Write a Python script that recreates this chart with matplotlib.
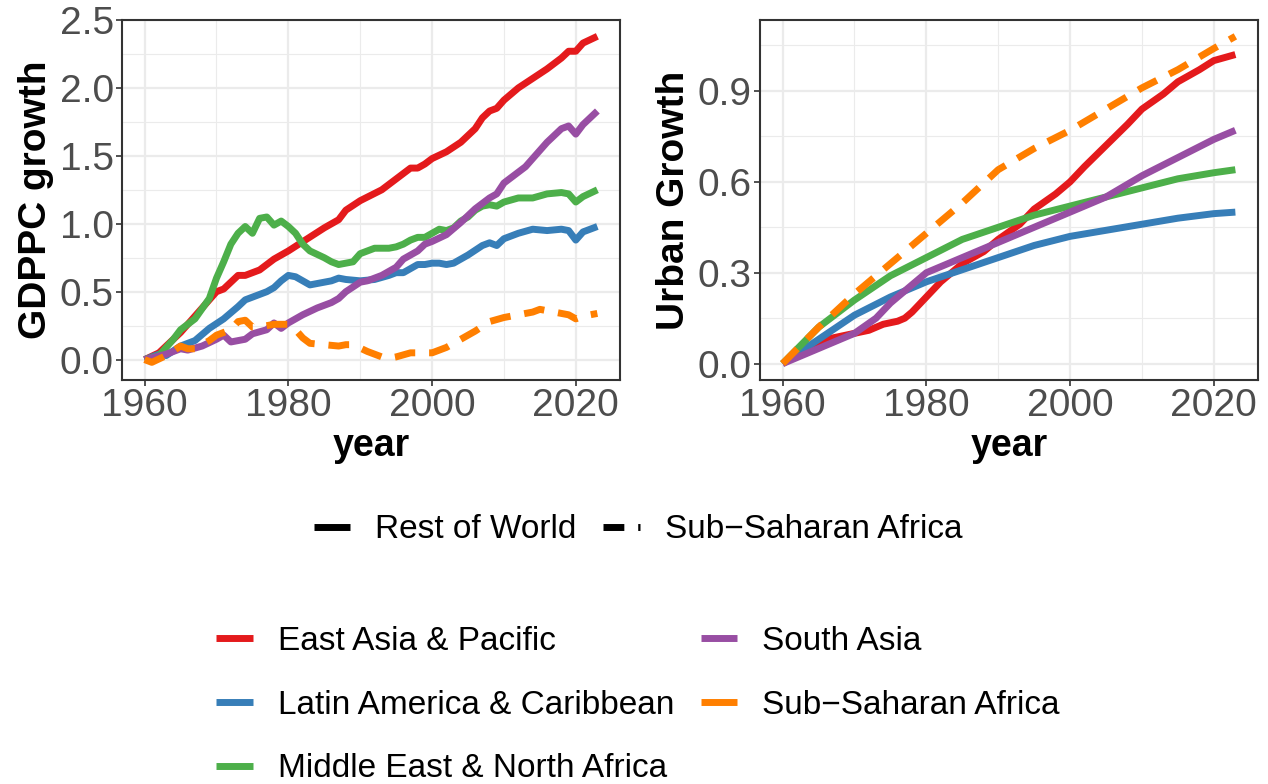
import matplotlib
matplotlib.use("Agg")
import matplotlib.pyplot as plt
from matplotlib.lines import Line2D
from matplotlib.ticker import MultipleLocator, FormatStrFormatter

plt.rcParams['font.family'] = ['Liberation Sans', 'DejaVu Sans']

regions = ["East Asia & Pacific", "Latin America & Caribbean",
           "Middle East & North Africa", "South Asia", "Sub\u2212Saharan Africa"]
colors = ["#E41A1C", "#377EB8", "#4DAF4A", "#984EA3", "#FF7F00"]

# GDP per capita growth (left panel)
gdp_eap_years = [1960, 1962, 1965, 1968, 1970, 1971, 1973, 1974, 1976, 1978, 1980, 1985, 1987,
                 1988, 1990, 1993, 1995, 1997, 1998, 1999, 2000, 2002, 2004, 2006, 2007, 2008,
                 2009, 2010, 2012, 2014, 2016, 2018, 2019, 2020, 2021, 2023]
gdp_eap = [0.0, 0.05, 0.20, 0.38, 0.50, 0.52, 0.62, 0.62, 0.66, 0.74, 0.80, 0.97, 1.03,
           1.10, 1.17, 1.25, 1.33, 1.41, 1.41, 1.44, 1.48, 1.53, 1.60, 1.70, 1.78, 1.83,
           1.85, 1.91, 2.00, 2.07, 2.14, 2.22, 2.27, 2.27, 2.33, 2.38]

gdp_lac_years = [1960, 1962, 1963, 1965, 1967, 1969, 1971, 1973, 1974, 1975, 1977, 1978, 1979,
                 1980, 1981, 1982, 1983, 1984, 1986, 1987, 1988, 1990, 1992, 1994, 1995, 1996,
                 1998, 1999, 2000, 2001, 2002, 2003, 2004, 2005, 2007, 2008, 2009, 2010, 2012,
                 2014, 2016, 2018, 2019, 2020, 2021, 2023]
gdp_lac = [0.0, 0.04, 0.03, 0.10, 0.14, 0.23, 0.30, 0.39, 0.44, 0.46, 0.50, 0.53, 0.58,
           0.62, 0.61, 0.58, 0.55, 0.56, 0.58, 0.60, 0.59, 0.58, 0.59, 0.62, 0.64, 0.64,
           0.70, 0.70, 0.71, 0.71, 0.70, 0.71, 0.74, 0.77, 0.84, 0.86, 0.84, 0.89, 0.93,
           0.96, 0.95, 0.96, 0.95, 0.88, 0.94, 0.98]

gdp_mena_years = [1960, 1962, 1964, 1965, 1967, 1969, 1970, 1971, 1972, 1973, 1974, 1975, 1976,
                  1977, 1978, 1979, 1980, 1981, 1982, 1983, 1985, 1986, 1987, 1988, 1989, 1990,
                  1991, 1992, 1994, 1995, 1996, 1997, 1998, 1999, 2000, 2001, 2002, 2003, 2004,
                  2005, 2006, 2007, 2008, 2009, 2010, 2012, 2014, 2016, 2018, 2019, 2020, 2021,
                  2023]
gdp_mena = [0.0, 0.03, 0.15, 0.22, 0.30, 0.45, 0.60, 0.72, 0.85, 0.93, 0.98, 0.93, 1.04,
            1.05, 0.99, 1.02, 0.98, 0.93, 0.85, 0.80, 0.75, 0.72, 0.70, 0.71, 0.72, 0.78,
            0.80, 0.82, 0.82, 0.83, 0.85, 0.88, 0.90, 0.90, 0.93, 0.96, 0.95, 0.97, 1.02,
            1.05, 1.10, 1.13, 1.14, 1.13, 1.16, 1.19, 1.19, 1.22, 1.23, 1.22, 1.16, 1.20,
            1.25]

gdp_sa_years = [1960, 1963, 1965, 1966, 1968, 1970, 1971, 1972, 1974, 1975, 1977, 1978, 1979,
                1980, 1982, 1984, 1986, 1987, 1988, 1990, 1991, 1993, 1995, 1996, 1998, 1999,
                2000, 2002, 2004, 2006, 2008, 2009, 2010, 2012, 2013, 2014, 2016, 2018, 2019,
                2020, 2021, 2023]
gdp_sa = [0.0, 0.04, 0.08, 0.07, 0.10, 0.15, 0.18, 0.13, 0.15, 0.19, 0.22, 0.27, 0.23,
          0.27, 0.33, 0.38, 0.42, 0.45, 0.50, 0.57, 0.58, 0.62, 0.68, 0.74, 0.80, 0.85,
          0.87, 0.92, 1.01, 1.11, 1.19, 1.22, 1.30, 1.38, 1.42, 1.48, 1.60, 1.70, 1.72,
          1.66, 1.73, 1.83]

gdp_ssa_years = [1960, 1961, 1963, 1965, 1966, 1967, 1969, 1970, 1971, 1972, 1973, 1974, 1975,
                 1976, 1977, 1978, 1980, 1981, 1982, 1983, 1985, 1987, 1988, 1989, 1991, 1993,
                 1994, 1995, 1997, 1999, 2000, 2002, 2004, 2006, 2008, 2010, 2012, 2014, 2015,
                 2016, 2018, 2019, 2020, 2021, 2023]
gdp_ssa = [0.0, -0.02, 0.03, 0.10, 0.08, 0.08, 0.14, 0.18, 0.20, 0.22, 0.28, 0.29, 0.24,
           0.24, 0.25, 0.26, 0.26, 0.22, 0.16, 0.12, 0.11, 0.10, 0.11, 0.11, 0.06, 0.02,
           0.01, 0.02, 0.05, 0.05, 0.05, 0.09, 0.15, 0.21, 0.28, 0.31, 0.33, 0.35, 0.37,
           0.36, 0.34, 0.33, 0.30, 0.32, 0.34]

# Urban growth (right panel)
urb_years = [1960, 1965, 1970, 1975, 1980, 1985, 1990, 1995, 2000, 2005, 2010, 2015, 2020, 2023]
urb_eap_years = [1960, 1963, 1966, 1968, 1970, 1972, 1974, 1976, 1977, 1978, 1980, 1982, 1985,
                 1988, 1990, 1993, 1995, 1998, 2000, 2002, 2005, 2008, 2010, 2013, 2015, 2018,
                 2020, 2023]
urb_eap = [0.0, 0.05, 0.08, 0.09, 0.10, 0.11, 0.13, 0.14, 0.15, 0.17, 0.22, 0.27, 0.33,
           0.37, 0.41, 0.46, 0.51, 0.56, 0.60, 0.65, 0.72, 0.79, 0.84, 0.89, 0.93, 0.97,
           1.00, 1.02]
urb_lac = [0.0, 0.08, 0.16, 0.22, 0.27, 0.31, 0.35, 0.39, 0.42, 0.44, 0.46, 0.48, 0.495, 0.50]
urb_mena = [0.0, 0.12, 0.21, 0.29, 0.35, 0.41, 0.45, 0.49, 0.52, 0.55, 0.58, 0.61, 0.63, 0.64]
urb_sa_years = [1960, 1965, 1968, 1970, 1973, 1975, 1978, 1980, 1983, 1985, 1990, 1995, 2000,
                2005, 2010, 2015, 2020, 2023]
urb_sa = [0.0, 0.05, 0.08, 0.10, 0.15, 0.20, 0.26, 0.30, 0.33, 0.35, 0.40, 0.45, 0.50,
          0.55, 0.62, 0.68, 0.74, 0.77]
urb_ssa = [0.0, 0.12, 0.23, 0.33, 0.43, 0.53, 0.64, 0.71, 0.77, 0.84, 0.91, 0.97, 1.04, 1.08]

gdp_series = [(gdp_eap_years, gdp_eap), (gdp_lac_years, gdp_lac), (gdp_mena_years, gdp_mena),
              (gdp_sa_years, gdp_sa), (gdp_ssa_years, gdp_ssa)]
urb_series = [(urb_eap_years, urb_eap), (urb_years, urb_lac), (urb_years, urb_mena),
              (urb_sa_years, urb_sa), (urb_years, urb_ssa)]

LW = 5.0
DASH = (3, 2)
GRID = "#EBEBEB"
DARK = "#333333"

W, H = 1268, 784
fig = plt.figure(figsize=(W / 100, H / 100), dpi=100)
ax1 = fig.add_axes([122 / W, 1 - 380 / H, 498 / W, 360 / H])
ax2 = fig.add_axes([760 / W, 1 - 380 / H, 498 / W, 360 / H])


def style(ax, major, ylabel, ylim):
    ax.set_xlim(1956.85, 2026.15)
    ax.set_ylim(*ylim)
    ax.xaxis.set_major_locator(MultipleLocator(20))
    ax.xaxis.set_minor_locator(MultipleLocator(10))
    ax.yaxis.set_major_locator(MultipleLocator(major))
    ax.yaxis.set_minor_locator(MultipleLocator(major / 2))
    ax.yaxis.set_major_formatter(FormatStrFormatter("%.1f"))
    ax.grid(which="major", color=GRID, lw=1.6, zorder=0)
    ax.grid(which="minor", color=GRID, lw=0.8, zorder=0)
    ax.set_axisbelow(True)
    for s in ax.spines.values():
        s.set_color(DARK)
        s.set_linewidth(1.5)
    ax.tick_params(which="major", length=4, width=1.2, color=DARK,
                   labelsize=28, labelcolor="#4D4D4D", pad=2)
    ax.tick_params(which="minor", length=0)
    ax.set_xlabel("year", fontsize=27, fontweight="bold", labelpad=3)
    ax.set_ylabel(ylabel, fontsize=28, fontweight="bold", labelpad=4)


def draw(ax, series):
    for (x, y), c, name in zip(series, colors, regions):
        ln, = ax.plot(x, y, color=c, lw=LW, solid_capstyle="butt",
                      dash_capstyle="butt", solid_joinstyle="round")
        if "Saharan" in name:
            ln.set_dashes(DASH)


draw(ax1, gdp_series)
draw(ax2, urb_series)
style(ax1, 0.5, "GDPPC growth", (-0.15, 2.50))
style(ax2, 0.3, "Urban Growth", (-0.054, 1.134))

# linetype legend
lt_handles = [Line2D([], [], color="black", lw=LW, solid_capstyle="butt"),
              Line2D([], [], color="black", lw=LW, dashes=DASH, dash_capstyle="butt")]
fig.legend(lt_handles, ["Rest of World", "Sub\u2212Saharan Africa"],
           loc="center", bbox_to_anchor=(638 / W, 1 - 530 / H), ncol=2,
           frameon=False, fontsize=24, handlelength=1.1, handletextpad=0.75,
           columnspacing=0.8)

# colour legend
col_handles = [Line2D([], [], color=c, lw=LW, solid_capstyle="butt") for c in colors]
fig.legend(col_handles, regions, loc="upper center",
           bbox_to_anchor=(638 / W, 1 - 596 / H), ncol=2, frameon=False,
           fontsize=24, handlelength=1.1, handletextpad=0.75,
           columnspacing=0.8, labelspacing=0.98)

fig.savefig("out.png", dpi=100)
